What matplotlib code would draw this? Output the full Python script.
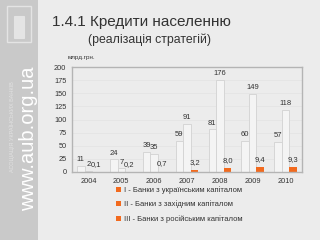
import numpy as np
import matplotlib
matplotlib.use("Agg")
import matplotlib.pyplot as plt
from matplotlib.patches import Rectangle, Patch

# data (млрд.грн.)
years = ["2004", "2005", "2006", "2007", "2008", "2009", "2010"]
ukr = [11, 24, 39, 59, 81, 60, 57]
west = [2, 7, 35, 91, 176, 149, 118]
rus = [0.1, 0.2, 0.7, 3.2, 8.0, 9.4, 9.3]
series_names = ["I - Банки з українським капіталом",
                "II - Банки з західним капіталом",
                "III - Банки з російським капіталом"]

plt.rcParams['font.family'] = ['Liberation Sans', 'DejaVu Sans']

bg = '#ececec'
orange = '#f26a1e'
txt = '#333333'

fig = plt.figure(figsize=(3.2, 2.4), dpi=100)
fig.patch.set_facecolor(bg)

# left sidebar
fig.patches.append(Rectangle((0, 0), 38 / 320, 1, transform=fig.transFigure,
                             facecolor='#c9c9c9', edgecolor='none', zorder=0))
# simple logo
fig.patches.append(Rectangle((7 / 320, 1 - 42 / 240), 24 / 320, 36 / 240,
                             transform=fig.transFigure, facecolor='none',
                             edgecolor='#e4e4e4', lw=1.0, zorder=1))
fig.patches.append(Rectangle((14 / 320, 1 - 38 / 240), 10 / 320, 22 / 240,
                             transform=fig.transFigure, facecolor='#e4e4e4',
                             edgecolor='#e4e4e4', lw=0.8, zorder=1))
fig.text(29 / 320, 1 - 139 / 240, "www.aub.org.ua", rotation=90,
         color='white', fontsize=14.5, ha='center', va='center')
fig.text(12 / 320, 1 - 127 / 240, "АСОЦІАЦІЯ УКРАЇНСЬКИХ БАНКІВ", rotation=90,
         color='#e2e2e2', fontsize=4.0, ha='center', va='center')

fig.text(52 / 320, 1 - 22 / 240, "1.4.1 Кредити населенню", color=txt,
         fontsize=11, ha='left', va='center')
fig.text(88 / 320, 1 - 40 / 240, "(реалізація стратегій)", color=txt,
         fontsize=8.8, ha='left', va='center')
fig.text(68 / 320, 1 - 58 / 240, "млрд.грн.", color=txt,
         fontsize=4.5, ha='left', va='center')

ax = fig.add_axes([72 / 320, 1 - 172 / 240, 230 / 320, 105 / 240])
ax.set_facecolor(bg)
x = np.arange(len(years))
w = 0.23
ax.bar(x - w, ukr, w, color='#f4f4f4', edgecolor='#d2d2d2', lw=0.6, zorder=2)
ax.bar(x, west, w, color='#f4f4f4', edgecolor='#d2d2d2', lw=0.6, zorder=2)
ax.bar(x + w, rus, w, color=orange, edgecolor='none', zorder=2)

for xi, v in zip(x, ukr):
    ax.annotate(str(v), (xi - w, v), xytext=(0, 2), textcoords='offset points',
                ha='center', va='bottom', fontsize=5.5, color=txt)
for xi, v in zip(x, west):
    ax.annotate(str(v), (xi, v), xytext=(0, 2), textcoords='offset points',
                ha='center', va='bottom', fontsize=5.5, color=txt)
for xi, v in zip(x, rus):
    ax.annotate(f"{v:.1f}".replace('.', ','), (xi + w, v), xytext=(0, 3),
                textcoords='offset points', ha='center', va='bottom',
                fontsize=5.5, color=txt)

ax.set_xlim(-0.5, len(years) - 0.5)
ax.set_ylim(0, 200)
ax.set_yticks(range(0, 201, 25))
ax.set_xticks(x)
ax.set_xticklabels(years)
ax.tick_params(length=0, labelsize=5.3, colors=txt, pad=4)
ax.yaxis.grid(True, color='#e2e2e2', lw=0.5, zorder=0)
for s in ax.spines.values():
    s.set_color('#b4b4b4')
    s.set_linewidth(1.0)

handles = [Patch(facecolor=orange, edgecolor='none') for _ in series_names]
fig.legend(handles, series_names, loc='upper left',
           bbox_to_anchor=(116 / 320, 1 - 186 / 240), frameon=False,
           fontsize=5.5, handlelength=0.6, handleheight=0.6, handletextpad=0.4,
           labelspacing=0.9, labelcolor=txt, borderaxespad=0, borderpad=0)

fig.savefig("out.png", dpi=100, facecolor=bg)
